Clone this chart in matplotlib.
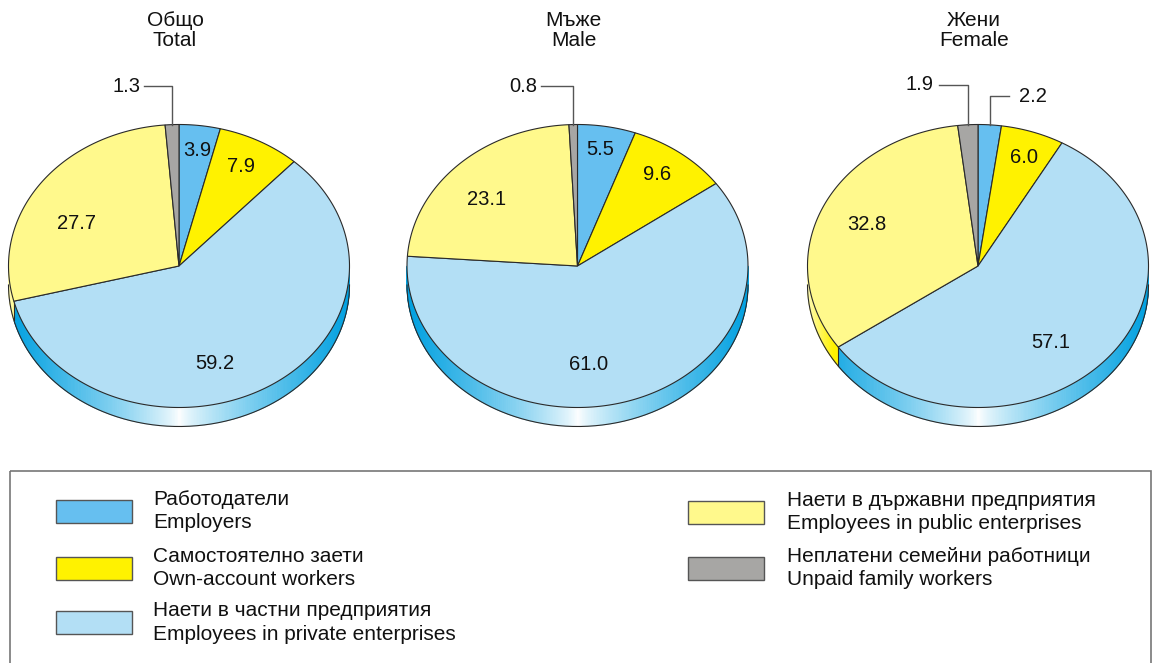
import numpy as np
import matplotlib
matplotlib.use("Agg")
import matplotlib.pyplot as plt
from matplotlib.patches import Polygon, Rectangle
from matplotlib.collections import PolyCollection
from matplotlib.colors import to_rgb

plt.rcParams['font.family'] = ['Liberation Sans', 'DejaVu Sans']

# --- data ---
categories_bg = ['Работодатели', 'Самостоятелно заети', 'Наети в частни предприятия',
                 'Наети в държавни предприятия', 'Неплатени семейни работници']
categories_en = ['Employers', 'Own-account workers', 'Employees in private enterprises',
                 'Employees in public enterprises', 'Unpaid family workers']
titles_bg = ['Общо', 'Мъже', 'Жени']
titles_en = ['Total', 'Male', 'Female']
total_vals = [3.9, 7.9, 59.2, 27.7, 1.3]
male_vals = [5.5, 9.6, 61.0, 23.1, 0.8]
female_vals = [2.2, 6.0, 57.1, 32.8, 1.9]

# --- styling / layout ---
top_colors = ['#66bff0', '#fff200', '#b3dff5', '#fff98c', '#a7a6a4']
side_colors = ['#2a9fdc', '#f0e000', '#00a0e0', '#fff200', '#8a8987']
centers = [(179, 266), (577.5, 266), (978, 266)]
RX, RY, DEPTH = 170.5, 141.5, 19
EDGE = '#2a2a2a'

# label offsets relative to centre, in units of (RX, RY); None -> leader label
label_pos = [
    [(0.105, -0.817), (0.363, -0.704), (0.211, 0.69), (-0.60, -0.30), None],
    [(0.132, -0.82), (0.465, -0.65), (0.067, 0.695), (-0.535, -0.47), None],
    [None, (0.272, -0.765), (0.425, 0.54), (-0.652, -0.29), None],
]
# (pie, slice): (direction, y of horizontal part, length, gap)
leaders = {
    (0, 4): (-1, 86, 28, 4),
    (1, 4): (-1, 86, 32, 4),
    (2, 4): (-1, 85, 29, 5),
    (2, 0): (1, 96, 19, 10),
}


def pt(cx, cy, th, dy=0.0):
    return cx + RX * np.sin(th), cy - RY * np.cos(th) + dy


def mix(c, t):
    c = np.array(to_rgb(c))
    return tuple(c * (1 - t) + np.ones(3) * t)


fig = plt.figure(figsize=(11.56, 6.63), dpi=100)
ax = fig.add_axes([0, 0, 1, 1])
ax.set_xlim(0, 1156)
ax.set_ylim(663, 0)
ax.axis('off')

for p, vals in enumerate([total_vals, male_vals, female_vals]):
    cx, cy = centers[p]
    fr = np.array(vals) / np.sum(vals)
    bounds = np.concatenate([[0], np.cumsum(fr)]) * 2 * np.pi

    # side (front half, theta from 90 to 270 degrees clockwise from top)
    polys, cols = [], []
    steps = np.linspace(np.pi / 2, 3 * np.pi / 2, 361)
    for a, b in zip(steps[:-1], steps[1:]):
        m = 0.5 * (a + b)
        k = min(np.searchsorted(bounds, m) - 1, len(vals) - 1)
        x1, y1 = pt(cx, cy, a)
        x2, y2 = pt(cx, cy, b)
        polys.append([(x1, y1), (x2, y2), (x2, y2 + DEPTH), (x1, y1 + DEPTH)])
        u = abs(np.sin(m))
        if k == 2:
            t = 1 - u ** 0.75
        elif k == 3:
            t = 0.7 * np.clip((u - 0.85) / 0.15, 0, 1)
        else:
            t = 0.3 * (1 - u)
        cols.append(mix(side_colors[k], t))
    ax.add_collection(PolyCollection(polys, facecolors=cols, edgecolors=cols,
                                     linewidths=0.6, zorder=1))
    arc = [pt(cx, cy, t, DEPTH) for t in steps]
    ax.plot([q[0] for q in arc], [q[1] for q in arc], color=EDGE, lw=0.8, zorder=2)
    for th in [b for b in bounds if np.pi / 2 < b < 3 * np.pi / 2]:
        x0, y0 = pt(cx, cy, th)
        ax.plot([x0, x0], [y0, y0 + DEPTH], color=EDGE, lw=0.8, zorder=2)

    # top face wedges
    for k in range(len(vals)):
        th = np.linspace(bounds[k], bounds[k + 1], max(int(fr[k] * 400), 4))
        verts = [(cx, cy)] + [pt(cx, cy, t) for t in th]
        ax.add_patch(Polygon(verts, closed=True, facecolor=top_colors[k],
                             edgecolor=EDGE, lw=0.8, zorder=3))

    # value labels
    for k, v in enumerate(vals):
        txt = f'{v:.1f}'
        if label_pos[p][k] is not None:
            ox, oy = label_pos[p][k]
            ax.text(cx + ox * RX, cy + oy * RY, txt, ha='center', va='center',
                    fontsize=14.5, color='#111', zorder=5)
        else:
            d, ly, ln, gap = leaders[(p, k)]
            mid = 0.5 * (bounds[k] + bounds[k + 1])
            x0, y0 = pt(cx, cy, mid)
            ax.plot([x0, x0, x0 + d * ln], [y0, ly, ly], color='#555', lw=1, zorder=4)
            ax.text(x0 + d * (ln + gap), ly, txt, ha='left' if d > 0 else 'right',
                    va='center', fontsize=14.5, color='#111', zorder=5)

    ax.text(cx - 4, 20, titles_bg[p], ha='center', va='center', fontsize=15, color='#111')
    ax.text(cx - 4, 41, titles_en[p], ha='center', va='center', fontsize=15, color='#111')

# legend box
ax.add_patch(Rectangle((10, 471), 1141, 220, facecolor='none', edgecolor='#777', lw=1.2))
legend_slots = [(56, 153, 511.5), (56, 153, 568), (56, 153, 622.5),
                (688, 787, 512), (688, 787, 568)]
for k, (sx, tx, yc) in enumerate(legend_slots):
    ax.add_patch(Rectangle((sx, yc - 11.5), 76, 23, facecolor=top_colors[k],
                           edgecolor='#555', lw=1))
    ax.text(tx, yc - 12, categories_bg[k], ha='left', va='center', fontsize=15, color='#111')
    ax.text(tx, yc + 11.5, categories_en[k], ha='left', va='center', fontsize=15, color='#111')

fig.savefig('out.png', dpi=100)
